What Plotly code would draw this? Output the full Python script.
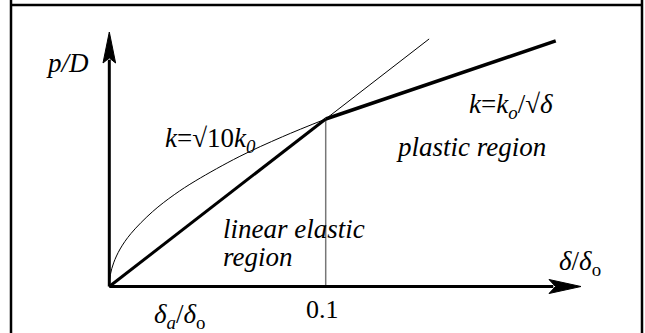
import plotly.graph_objects as go

# ---- data ----
elastic_x = [0.0, 0.1]
elastic_y = [0.0, 1.0]
plastic_x = [0.1, 0.2063]
plastic_y = [1.0, 1.466]
linear_ext_x = [0.0, 0.1478]
linear_ext_y = [0.0, 1.478]
curve_x = [0.0, 0.0005, 0.002, 0.005, 0.01, 0.02, 0.03, 0.04, 0.06, 0.08, 0.1]
curve_y = [0.0, 0.071, 0.141, 0.224, 0.316, 0.447, 0.548, 0.632, 0.775, 0.894, 1.0]
yield_x = 0.1
tick_labels = ["0.1"]

W, H = 645, 333
OX, OY = 109.3, 286.5          # origin pixel
SX, SY = 2164.0, 167.5          # px per data unit
x0 = -OX / SX
x1 = x0 + W / SX
y1 = OY / SY
y0 = y1 - H / SY

def px2x(p):
    return (p - OX) / SX

def px2y(p):
    return (OY - p) / SY

fig = go.Figure()
fig.add_trace(go.Scatter(x=curve_x, y=curve_y, mode="lines",
                         line=dict(color="black", width=1, shape="spline"), hoverinfo="skip"))
fig.add_trace(go.Scatter(x=linear_ext_x, y=linear_ext_y, mode="lines",
                         line=dict(color="black", width=1), hoverinfo="skip"))
fig.add_trace(go.Scatter(x=[yield_x, yield_x], y=[0, 1.0], mode="lines",
                         line=dict(color="#777777", width=1.5), hoverinfo="skip"))
fig.add_trace(go.Scatter(x=elastic_x, y=elastic_y, mode="lines",
                         line=dict(color="black", width=3), hoverinfo="skip"))
fig.add_trace(go.Scatter(x=plastic_x, y=plastic_y, mode="lines",
                         line=dict(color="black", width=3.5), hoverinfo="skip"))

shapes = []
# axes
ya_tip, ya_base = px2y(32), px2y(63)
xa_tip, xa_base = px2x(581), px2x(549)
hw = 6.3 / SX
hh = 7.0 / SY
shapes.append(dict(type="line", x0=0, y0=0, x1=0, y1=ya_base + 0.02, line=dict(color="black", width=3)))
shapes.append(dict(type="line", x0=0, y0=0, x1=xa_base + 0.002, y1=0, line=dict(color="black", width=3)))
shapes.append(dict(type="path",
                   path=f"M {-hw} {ya_base} L 0 {ya_tip} L {hw} {ya_base} L 0 {ya_base + 0.03} Z",
                   fillcolor="black", line=dict(color="black", width=1)))
shapes.append(dict(type="path",
                   path=f"M {xa_base} {hh} L {xa_tip} 0 L {xa_base} {-hh} L {xa_base + 0.003} 0 Z",
                   fillcolor="black", line=dict(color="black", width=1)))
# border
bl, br, bt = 11 / W, 642 / W, 1 - 5 / H
shapes.append(dict(type="line", xref="paper", yref="paper", x0=bl, x1=bl, y0=0, y1=1,
                   line=dict(color="black", width=2.5)))
shapes.append(dict(type="line", xref="paper", yref="paper", x0=br, x1=br, y0=0, y1=1,
                   line=dict(color="black", width=2.5)))
shapes.append(dict(type="line", xref="paper", yref="paper", x0=bl, x1=br, y0=bt, y1=bt,
                   line=dict(color="black", width=2.5)))

def font(size):
    return dict(family="Liberation Serif", size=size, color="black")

def ann(text, px, py, anchor="center", size=27):
    return dict(text=text, x=px2x(px), y=px2y(py), xref="x", yref="y", showarrow=False,
                xanchor=anchor, yanchor="middle", font=font(size))

annotations = [
    ann("<i>p/D</i>", 67, 63),
    ann("<i>k</i>=√10<i>k</i><sub><i>0</i></sub>", 163, 140, "left"),
    ann("<i>k</i>=<i>k</i><sub><i>o</i></sub>/√<i>δ</i>", 467, 106, "left"),
    ann("<i>plastic region</i>", 394, 147, "left"),
    ann("<i>linear elastic</i>", 221, 229, "left"),
    ann("<i>region</i>", 221, 257, "left"),
    ann(tick_labels[0], 322, 309, size=26),
    ann("<i>δ<sub>a</sub></i>/<i>δ</i><sub>o</sub>", 180, 316),
    ann("<i>δ</i>/<i>δ</i><sub>o</sub>", 580, 263),
]

fig.update_layout(
    width=W, height=H, margin=dict(l=0, r=0, t=0, b=0),
    paper_bgcolor="white", plot_bgcolor="white", showlegend=False,
    xaxis=dict(range=[x0, x1], visible=False, fixedrange=True),
    yaxis=dict(range=[y0, y1], visible=False, fixedrange=True),
    shapes=shapes, annotations=annotations,
)
fig.write_html("out.html", config={"displayModeBar": False},
               post_script="document.body.style.margin='0';document.body.style.overflow='hidden';")
